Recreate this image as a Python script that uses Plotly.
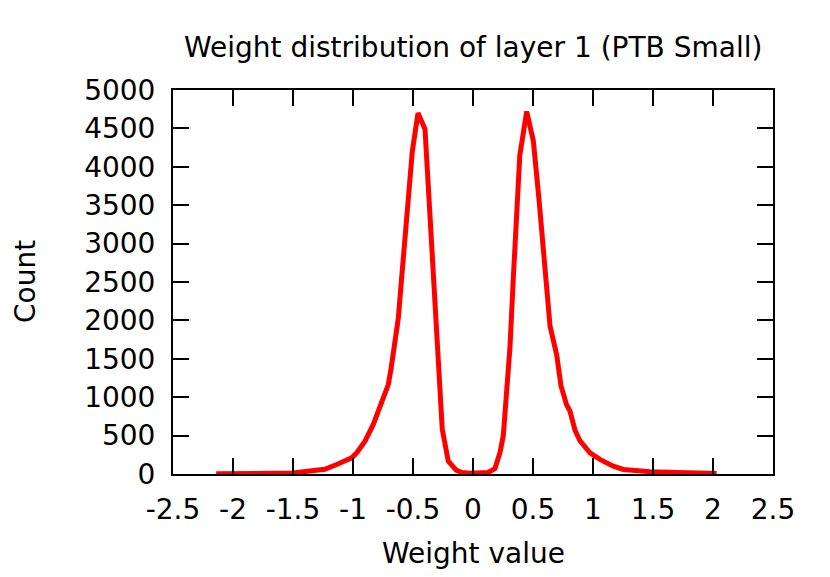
import plotly.graph_objects as go

# Weight value (x) and count (y)
weight_value = [
    -2.14, -2.0, -1.85, -1.7, -1.5, -1.36, -1.30, -1.235, -1.136, -1.067,
    -1.011, -0.969, -0.9, -0.831, -0.775, -0.706, -0.683, -0.65, -0.6225, -0.592,
    -0.567, -0.5375, -0.506, -0.4583, -0.40, -0.256, -0.206, -0.14, -0.094, -0.025,
    0.04, 0.125, 0.183, 0.225, 0.2525, 0.28, 0.308, 0.336, 0.367, 0.39,
    0.4475, 0.5025, 0.55, 0.586, 0.642, 0.6975, 0.733, 0.78, 0.808, 0.85,
    0.892, 0.975, 1.058, 1.169, 1.2525, 1.475, 1.7525, 2.03,
]
count = [
    3, 4, 6, 8, 12, 40, 55, 62, 124, 167,
    211, 276, 427, 645, 883, 1165, 1370, 1750, 2030, 2600,
    3075, 3500, 4200, 4700, 4490, 580, 167, 50, 20, 10,
    10, 20, 70, 280, 500, 1000, 1650, 2550, 3500, 4150,
    4720, 4340, 3574, 2850, 1925, 1550, 1150, 900, 820, 570,
    430, 276, 190, 102, 59, 30, 12, 6,
]

x_ticks = [-2.5, -2, -1.5, -1, -0.5, 0, 0.5, 1, 1.5, 2, 2.5]
x_tick_labels = ["-2.5", "-2", "-1.5", "-1", "-0.5", "0", "0.5", "1", "1.5", "2", "2.5"]
y_ticks = [0, 500, 1000, 1500, 2000, 2500, 3000, 3500, 4000, 4500, 5000]
y_tick_labels = [str(v) for v in y_ticks]

FONT = "DejaVu Sans"
FS = 28

fig = go.Figure()
fig.add_trace(go.Scatter(
    x=weight_value, y=count, mode="lines",
    line=dict(color="#ff0000", width=5),
    showlegend=False, hoverinfo="skip",
))

axis_common = dict(
    showgrid=False, zeroline=False,
    showline=True, linecolor="black", linewidth=2,
    mirror="ticks", ticks="inside", ticklen=16, tickwidth=2, tickcolor="black",
    tickfont=dict(family=FONT, size=FS, color="black"),
)

fig.update_layout(
    width=830, height=577,
    margin=dict(l=165, r=65, t=82, b=111),
    paper_bgcolor="white", plot_bgcolor="white",
    xaxis=dict(range=[-2.5, 2.5], tickvals=x_ticks, ticktext=x_tick_labels,
               ticklabelstandoff=9, **axis_common),
    yaxis=dict(range=[0, 5000], tickvals=y_ticks, ticktext=y_tick_labels,
               ticklabelstandoff=10, **axis_common),
    annotations=[
        dict(text="Weight distribution of layer 1 (PTB Small)", x=0.5, y=1,
             xref="paper", yref="paper", xanchor="center", yanchor="bottom",
             yshift=24, showarrow=False, font=dict(family=FONT, size=FS, color="black")),
        dict(text="Weight value", x=0.5, y=0, xref="paper", yref="paper",
             xanchor="center", yanchor="top", yshift=-61, showarrow=False,
             font=dict(family=FONT, size=FS, color="black")),
        dict(text="Count", x=0, y=0.5, xref="paper", yref="paper",
             xanchor="center", yanchor="middle", xshift=-148, textangle=-90,
             showarrow=False, font=dict(family=FONT, size=FS, color="black")),
    ],
)

fig.write_html("out.html")
